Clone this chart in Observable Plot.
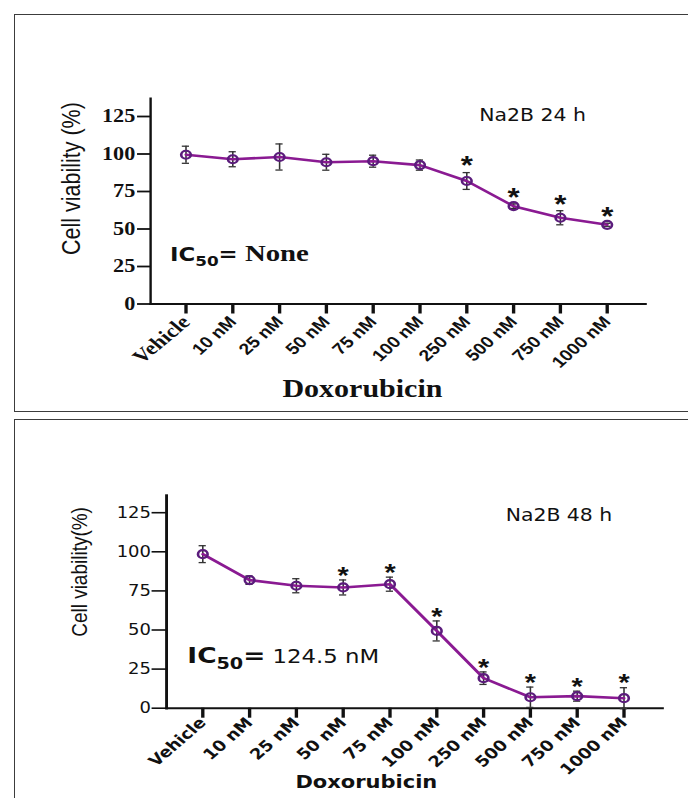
<!DOCTYPE html>
<html><head><meta charset="utf-8">
<script src="https://cdn.jsdelivr.net/npm/d3@7"></script>
<script src="https://cdn.jsdelivr.net/npm/@observablehq/plot@0.6"></script>
<style>
html,body{margin:0;padding:0;background:#fff;width:688px;height:798px;overflow:hidden;position:relative}
.box{position:absolute;border:1.5px solid #3c3c3c;box-sizing:border-box}
.chart{position:absolute;left:0}
</style></head><body>
<div class="box" style="left:14px;top:14px;width:700px;height:398px"></div>
<div class="box" style="left:14px;top:419px;width:700px;height:400px"></div>
<div id="c1" class="chart" style="top:0"></div>
<div id="c2" class="chart" style="top:412px"></div>
<script>
// ---- data ----
const categories = ["Vehicle","10 nM","25 nM","50 nM","75 nM","100 nM","250 nM","500 nM","750 nM","1000 nM"];
const viability24 = [99.5, 96.5, 98.0, 94.5, 95.2, 92.6, 82.0, 65.2, 57.5, 52.8];
const error24     = [5.7, 5.0, 8.7, 5.3, 4.0, 3.4, 5.6, 1.5, 4.7, 1.0];
const signif24    = [false,false,false,false,false,false,true,true,true,true];
const viability48 = [98.5, 81.9, 78.3, 77.2, 79.3, 49.4, 19.2, 7.0, 7.7, 6.4];
const error48     = [5.4, 2.7, 4.5, 4.8, 4.5, 6.4, 4.0, 6.5, 3.2, 6.7];
const signif48    = [false,false,false,true,true,true,true,true,true,true];
const yTicks = [0, 25, 50, 75, 100, 125];
const titles = ["Na2B 24 h", "Na2B 48 h"];
const yLabels = ["Cell viability (%)", "Cell viability(%)"];
const xLabel = "Doxorubicin";
const ic50Top = ["IC", "50", "=", " None"];
const ic50Bottom = ["IC", "50", "=", " 124.5 nM"];

const S = 1.2; // horizontal stretch of the original figure
const lineColor = "#8a1a92";
const markerColor = "#5b1c7c";

function rows(v, e, s) { return categories.map((c, i) => ({cat: c, v: v[i], e: e[i], sig: s[i]})); }

function richText(svg, key, parts) {
  d3.select(svg).selectAll("text").filter(function(){ return this.textContent === key; }).each(function(){
    const t = d3.select(this);
    t.text(null);
    parts.forEach(p => {
      const ts = t.append("tspan").text(p.t).attr("font-family", p.f).attr("font-size", p.s).attr("font-weight", p.w || "normal");
      if (p.dy) ts.attr("dy", p.dy);
    });
  });
}

// ---- top panel ----
{
  const data = rows(viability24, error24, signif24);
  const W = 574, H = 411, mL = 125, mR = 36.5, mT = 98, mB = 107.5;
  const svg = Plot.plot({
    width: W, height: H, marginLeft: mL, marginRight: mR, marginTop: mT, marginBottom: mB,
    style: {color: "#111", background: "transparent", overflow: "visible"},
    x: {type: "band", domain: categories, range: [132.7, 528.1], padding: 0},
    y: {domain: [0, 137]},
    marks: [
      Plot.axisY({ticks: yTicks, tickSize: 10.8, tickPadding: 2, fontSize: 18.5, fontWeight: "bold", fontFamily: "Liberation Serif", strokeWidth: 1.8, label: null}),
      Plot.axisX({tickSize: 10, tickPadding: 5, tickRotate: -47, fontSize: 16, fontWeight: "bold", fontFamily: "Liberation Sans", strokeWidth: 2.8, label: null, tickFormat: d => d === categories[0] ? "" : d}),
      Plot.axisX({tickSize: 0, tickPadding: 15, tickRotate: -45, fontSize: 19, fontWeight: "bold", fontFamily: "Liberation Serif", label: null, tickFormat: d => d === categories[0] ? d : ""}),
      Plot.frame({anchor: "left", strokeWidth: 2}),
      Plot.frame({anchor: "bottom", strokeWidth: 2}),
      Plot.ruleX(data, {x: "cat", y1: d => d.v - d.e, y2: d => d.v + d.e, stroke: "#333", strokeWidth: 1.3}),
      Plot.tickY(data, {x: "cat", y: d => d.v + d.e, insetLeft: 16.5, insetRight: 16.5, stroke: "#333", strokeWidth: 1.3}),
      Plot.tickY(data, {x: "cat", y: d => d.v - d.e, insetLeft: 16.5, insetRight: 16.5, stroke: "#333", strokeWidth: 1.3}),
      Plot.line(data, {x: "cat", y: "v", stroke: lineColor, strokeWidth: 2.6}),
      Plot.dot(data, {x: "cat", y: "v", r: 4, stroke: markerColor, strokeWidth: 2.2, fill: "none"}),
      Plot.text(data.filter(d => d.sig), {x: "cat", y: d => d.v + d.e, text: () => "*", dy: -6.5, fontSize: 26, fontWeight: "bold", fontFamily: "Liberation Sans", fill: "#111"}),
      Plot.text([titles[0]], {frameAnchor: "top-left", dx: 318.3, dy: 10, textAnchor: "middle", fontSize: 17, fontFamily: "DejaVu Sans", fill: "#111"}),
      Plot.text([yLabels[0]], {frameAnchor: "left", textAnchor: "middle", rotate: -90, dx: -65.8, dy: -22.7, fontSize: 21.5, fontFamily: "Liberation Sans", fill: "#111"}),
      Plot.text([xLabel], {frameAnchor: "bottom", textAnchor: "middle", dx: -29.7, dy: 93, lineAnchor: "bottom", fontSize: 25, fontWeight: "bold", fontFamily: "Liberation Serif", fill: "#111"}),
      Plot.text([ic50Top.join("")], {frameAnchor: "top-left", dx: 16.2, dy: 162.7, textAnchor: "start", lineAnchor: "bottom", fontSize: 19, fill: "#111"})
    ]
  });
  richText(svg, ic50Top.join(""), [
    {t: ic50Top[0], f: "DejaVu Sans", s: 19, w: "bold"},
    {t: ic50Top[1], f: "DejaVu Sans", s: 14, w: "bold", dy: 5},
    {t: ic50Top[2], f: "DejaVu Sans", s: 19, w: "bold", dy: -5},
    {t: ic50Top[3], f: "Liberation Serif", s: 24, w: "bold"}
  ]);
  svg.style.transformOrigin = "0 0";
  svg.style.transform = `scaleX(${S})`;
  svg.style.maxWidth = "none";
  document.getElementById("c1").appendChild(svg);
}

// ---- bottom panel ----
{
  const data = rows(viability48, error48, signif48);
  const W = 574, H = 386, mL = 138.3, mR = 22.3, mT = 83, mB = 90.3;
  const svg = Plot.plot({
    width: W, height: H, marginLeft: mL, marginRight: mR, marginTop: mT, marginBottom: mB,
    style: {color: "#111", background: "transparent", overflow: "visible"},
    x: {type: "band", domain: categories, range: [144.8, 543.0], padding: 0},
    y: {domain: [0, 136]},
    marks: [
      Plot.axisY({ticks: yTicks, tickSize: 12, tickPadding: 1, fontSize: 15, fontFamily: "DejaVu Sans", strokeWidth: 1.6, label: null}),
      Plot.axisX({tickSize: 10, tickPadding: 2, tickRotate: -46, fontSize: 15, fontWeight: "bold", fontFamily: "DejaVu Sans", strokeWidth: 2.8, label: null}),
      Plot.frame({anchor: "left", strokeWidth: 2.4}),
      Plot.frame({anchor: "bottom", strokeWidth: 2}),
      Plot.ruleX(data, {x: "cat", y1: d => d.v - d.e, y2: d => d.v + d.e, stroke: "#333", strokeWidth: 1.3}),
      Plot.tickY(data, {x: "cat", y: d => d.v + d.e, insetLeft: 16.5, insetRight: 16.5, stroke: "#333", strokeWidth: 1.3}),
      Plot.tickY(data, {x: "cat", y: d => d.v - d.e, insetLeft: 16.5, insetRight: 16.5, stroke: "#333", strokeWidth: 1.3}),
      Plot.line(data, {x: "cat", y: "v", stroke: lineColor, strokeWidth: 2.6}),
      Plot.dot(data, {x: "cat", y: "v", r: 4, stroke: markerColor, strokeWidth: 2.2, fill: "none"}),
      Plot.text(data.filter(d => d.sig), {x: "cat", y: d => d.v + d.e, text: () => "*", dy: -4, fontSize: 24, fontWeight: "bold", fontFamily: "Liberation Sans", fill: "#111"}),
      Plot.text([titles[1]], {frameAnchor: "top-left", dx: 327, dy: 13.3, textAnchor: "middle", fontSize: 17, fontFamily: "DejaVu Sans", fill: "#111"}),
      Plot.text([yLabels[1]], {frameAnchor: "left", textAnchor: "middle", rotate: -90, dx: -72.3, dy: -29.9, fontSize: 19, fontFamily: "Liberation Sans", fill: "#111"}),
      Plot.text([xLabel], {frameAnchor: "bottom", textAnchor: "middle", dx: -40.2, dy: 80, lineAnchor: "bottom", fontSize: 17.5, fontWeight: "bold", fontFamily: "DejaVu Sans", fill: "#111"}),
      Plot.text([ic50Bottom.join("")], {frameAnchor: "top-left", dx: 17.3, dy: 167.7, textAnchor: "start", lineAnchor: "bottom", fontSize: 22, fill: "#111"})
    ]
  });
  richText(svg, ic50Bottom.join(""), [
    {t: ic50Bottom[0], f: "DejaVu Sans", s: 22, w: "bold"},
    {t: ic50Bottom[1], f: "DejaVu Sans", s: 16, w: "bold", dy: 6},
    {t: ic50Bottom[2], f: "DejaVu Sans", s: 22, w: "bold", dy: -6},
    {t: ic50Bottom[3], f: "DejaVu Sans", s: 19, w: "normal"}
  ]);
  svg.style.transformOrigin = "0 0";
  svg.style.transform = `scaleX(${S})`;
  svg.style.maxWidth = "none";
  document.getElementById("c2").appendChild(svg);
}
</script>
</body></html>
